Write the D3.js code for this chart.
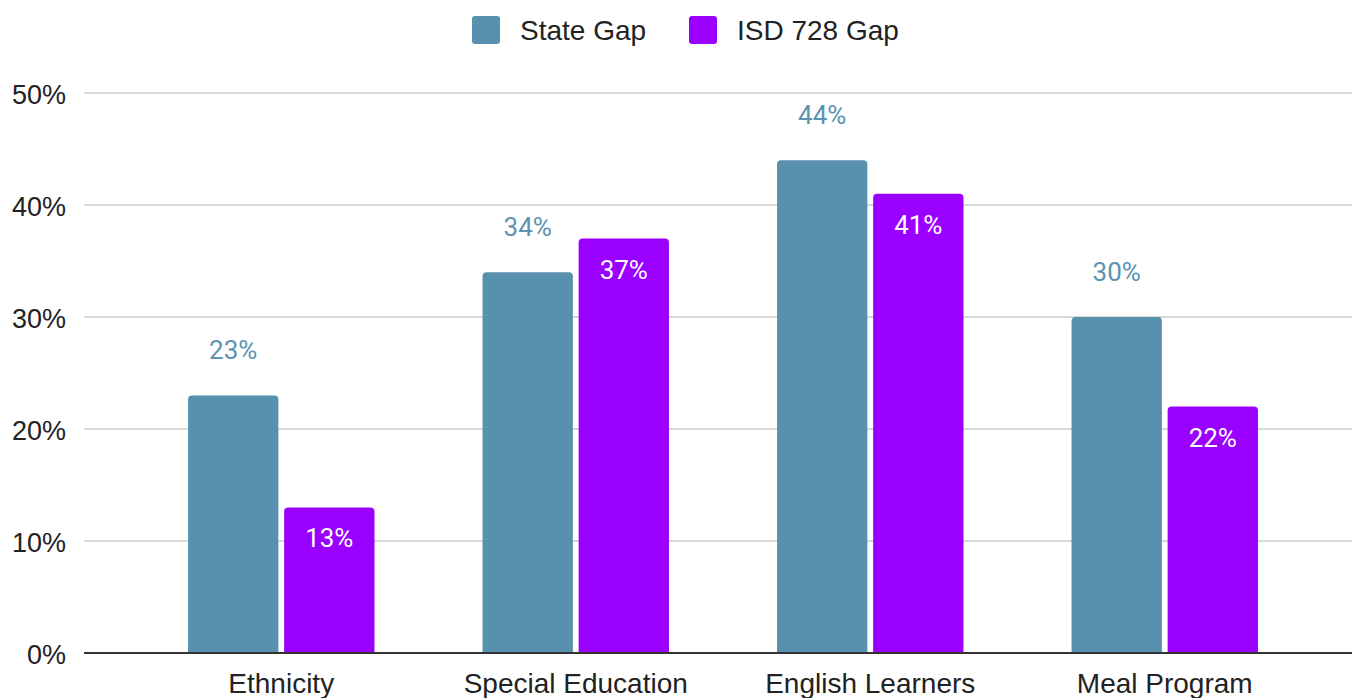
<!DOCTYPE html>
<html>
<head>
<meta charset="utf-8">
<script src="https://cdn.jsdelivr.net/npm/d3@7"></script>
<style>
  body { margin: 0; background: #fff; }
  svg text { font-family: Arial, "Liberation Sans", sans-serif; }
</style>
</head>
<body>
<svg id="chart"></svg>
<script>
// data
let categories = ['Ethnicity', 'Special Education', 'English Learners', 'Meal Program'];
let seriesNames = ['State Gap', 'ISD 728 Gap'];
let stateGap = [23, 34, 44, 30];
let isdGap = [13, 37, 41, 22];
let yTicks = [0, 10, 20, 30, 40, 50];
let colors = ['#5891ad', '#9900ff'];

function getConfig() {
  let width = 1352;
  let height = 698;
  let margin = { top: 93, bottom: 45, left: 84, right: 0 };
  let container = d3.select('#chart').attr('width', width).attr('height', height);
  return { width, height, margin, container };
}

function getScales(config) {
  let { height, margin } = config;
  let x0 = d3.scaleBand()
    .domain(categories)
    .range([134, 1312])
    .paddingInner(0.367)
    .paddingOuter(0.1835);
  let x1 = d3.scaleBand()
    .domain(seriesNames)
    .range([0, x0.bandwidth()])
    .paddingInner(0.06);
  let y = d3.scaleLinear()
    .domain([0, 50])
    .range([height - margin.bottom, margin.top]);
  return { x0, x1, y };
}

// rect with rounded top corners only
function topRounded(x, y, w, h, r) {
  r = Math.min(r, h, w / 2);
  return `M${x},${y + h} V${y + r} Q${x},${y} ${x + r},${y} H${x + w - r} Q${x + w},${y} ${x + w},${y + r} V${y + h} Z`;
}

function drawGrid(config, scales) {
  let { container, margin, width } = config;
  let { y } = scales;
  let grid = container.append('g');
  grid.selectAll('line').data(yTicks.filter(d => d > 0)).enter()
    .append('line')
    .attr('x1', margin.left).attr('x2', width)
    .attr('y1', d => y(d)).attr('y2', d => y(d))
    .attr('stroke', '#cccccc').attr('stroke-width', 1.5);

  let axisY = d3.axisLeft(y).tickValues(yTicks).tickFormat(d => d + '%').tickSize(0).tickPadding(18);
  let gy = container.append('g')
    .attr('transform', `translate(${margin.left},0)`)
    .call(axisY);
  gy.select('.domain').remove();
  gy.selectAll('text')
    .attr('font-size', 27).attr('fill', '#222').attr('dy', '0.4em')
    .style('font-family', 'Arial, "Liberation Sans", sans-serif');
}

function drawBars(config, scales) {
  let { container } = config;
  let { x0, x1, y } = scales;
  let rows = categories.map((c, i) => ({ cat: c, vals: [stateGap[i], isdGap[i]] }));

  let groups = container.selectAll('.group').data(rows).enter()
    .append('g')
    .attr('class', 'group')
    .attr('transform', d => `translate(${x0(d.cat)},0)`);

  groups.selectAll('path').data(d => d.vals.map((v, j) => ({ name: seriesNames[j], v, j })))
    .enter().append('path')
    .attr('d', d => topRounded(x1(d.name), y(d.v), x1.bandwidth(), y(0) - y(d.v), 4))
    .attr('fill', d => colors[d.j]);

  groups.selectAll('.lbl').data(d => d.vals.map((v, j) => ({ name: seriesNames[j], v, j })))
    .enter().append('text')
    .attr('class', 'lbl')
    .attr('x', d => x1(d.name) + x1.bandwidth() / 2)
    .attr('y', d => d.j === 0 ? y(d.v) - 36 : y(d.v) + 40)
    .attr('text-anchor', 'middle')
    .attr('font-size', 26)
    .style('font-family', 'Roboto, sans-serif')
    .attr('fill', d => d.j === 0 ? '#5b93b0' : '#ffffff')
    .text(d => d.v + '%');
}

function drawXAxis(config, scales) {
  let { container, height, margin, width } = config;
  let { x0 } = scales;
  let base = height - margin.bottom;
  container.append('line')
    .attr('x1', margin.left).attr('x2', width)
    .attr('y1', base).attr('y2', base)
    .attr('stroke', '#333').attr('stroke-width', 2);

  container.selectAll('.xlab').data(categories).enter()
    .append('text')
    .attr('class', 'xlab')
    .attr('x', d => x0(d) + x0.bandwidth() / 2)
    .attr('y', base + 40)
    .attr('text-anchor', 'middle')
    .attr('font-size', 28)
    .attr('fill', '#222')
    .text(d => d);
}

function drawLegend(config) {
  let { container } = config;
  let legendX = [472, 689];
  let lg = container.selectAll('.leg').data(seriesNames).enter()
    .append('g')
    .attr('class', 'leg')
    .attr('transform', (d, i) => `translate(${legendX[i]},16)`);
  lg.append('rect')
    .attr('width', 28).attr('height', 28).attr('rx', 3)
    .attr('fill', (d, i) => colors[i]);
  lg.append('text')
    .attr('x', 48).attr('y', 24)
    .attr('font-size', 28).attr('fill', '#222')
    .text(d => d);
}

function drawChart() {
  let config = getConfig();
  let scales = getScales(config);
  drawGrid(config, scales);
  drawBars(config, scales);
  drawXAxis(config, scales);
  drawLegend(config);
}

drawChart();
</script>
</body>
</html>
